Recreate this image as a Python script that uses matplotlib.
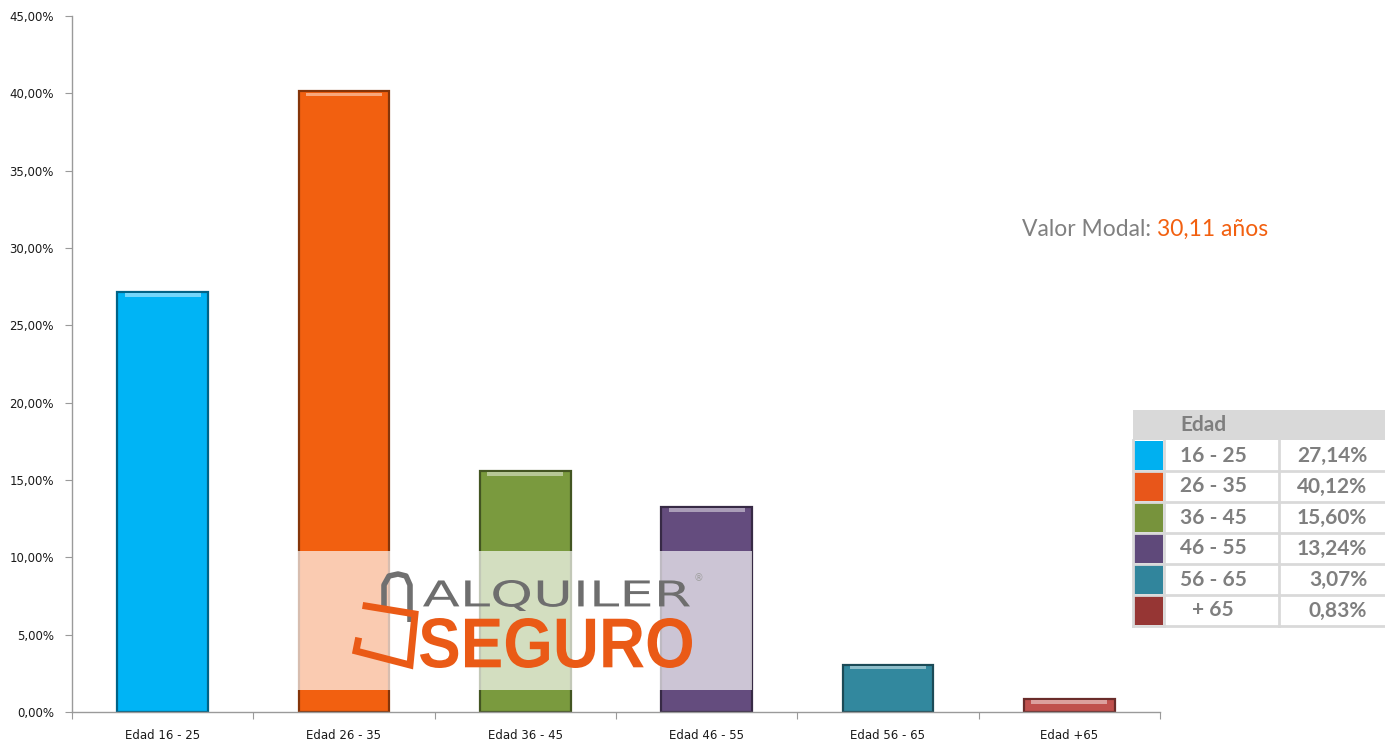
import matplotlib
matplotlib.use("Agg")
import matplotlib.pyplot as plt
from matplotlib.patches import Rectangle, PathPatch
from matplotlib.lines import Line2D
from matplotlib.textpath import TextPath
from matplotlib.font_manager import FontProperties
from matplotlib.transforms import Affine2D
from matplotlib.ticker import FixedLocator, FuncFormatter
import matplotlib.colors as mcolors

# ---------------- data ----------------
categories = ["Edad 16 - 25", "Edad 26 - 35", "Edad 36 - 45", "Edad 46 - 55", "Edad 56 - 65", "Edad +65"]
table_labels = ["16 - 25", "26 - 35", "36 - 45", "46 - 55", "56 - 65", "+ 65"]
values = [27.14, 40.12, 15.60, 13.24, 3.07, 0.83]
value_labels = ["27,14%", "40,12%", "15,60%", "13,24%", "3,07%", "0,83%"]
bar_colors = ["#00B4F5", "#F26010", "#7A9A3E", "#644C7E", "#32889E", "#C0504D"]
swatch_colors = ["#00B0F0", "#E8561A", "#77933C", "#5F497A", "#31859C", "#963634"]
yticks = [0, 5, 10, 15, 20, 25, 30, 35, 40, 45]

W, H = 1385, 740
fig = plt.figure(figsize=(W / 100, H / 100), dpi=100)

def fx(px):
    return px / W

def fy(py):
    return 1 - py / H

ax = fig.add_axes([fx(72), fy(712), fx(1160) - fx(72), fy(16) - fy(712)])

x = list(range(len(categories)))
for i, (v, c) in enumerate(zip(values, bar_colors)):
    dark = tuple(max(0, ch * 0.55) for ch in mcolors.to_rgb(c))
    light = tuple(min(1, ch + (1 - ch) * 0.45) for ch in mcolors.to_rgb(c))
    ax.bar(i, v, width=0.5, color=c, edgecolor=dark, linewidth=1.6, zorder=2)
    ax.bar(i, 0.25, bottom=v - 0.32, width=0.42, color=light, linewidth=0, zorder=3)

ax.set_xlim(-0.5, len(categories) - 0.5)
ax.set_ylim(0, 45)
ax.yaxis.set_major_locator(FixedLocator(yticks))
ax.yaxis.set_major_formatter(FuncFormatter(lambda v, p: f"{v:.2f}%".replace(".", ",")))
ax.xaxis.set_major_locator(FixedLocator([i - 0.5 for i in range(len(categories) + 1)]))
ax.xaxis.set_major_formatter(FuncFormatter(lambda v, p: ""))
ax.xaxis.set_minor_locator(FixedLocator(x))
ax.set_xticklabels(categories, minor=True)
ax.tick_params(axis="x", which="minor", length=0, pad=12, labelsize=8.5, labelcolor="#1a1a1a")
ax.tick_params(axis="x", which="major", length=5, color="#9a9a9a", direction="out")
ax.tick_params(axis="y", length=5, color="#9a9a9a", labelsize=8.5, labelcolor="#1a1a1a", pad=8)
for s in ["top", "right"]:
    ax.spines[s].set_visible(False)
for s in ["left", "bottom"]:
    ax.spines[s].set_color("#9a9a9a")
    ax.spines[s].set_linewidth(1)

# ---------------- watermark ----------------
fig.patches.append(Rectangle((fx(297), fy(690)), fx(752) - fx(297), fy(551) - fy(690),
                             transform=fig.transFigure, facecolor="white", alpha=0.68,
                             edgecolor="none", zorder=5))

def fitted_text(s, x0, x1, ytop, ybot, color, prop):
    """Place text path so its bounding box fills the pixel box."""
    tp = TextPath((0, 0), s, size=100, prop=prop)
    ext = tp.get_extents()
    sx = (x1 - x0) / ext.width
    sy = (ybot - ytop) / ext.height
    tr = (Affine2D().translate(-ext.x0, -ext.y0).scale(sx, sy)
          .translate(x0, H - ybot).scale(1 / W, 1 / H))
    patch = PathPatch(tr.transform_path(tp), facecolor=color, edgecolor="none",
                      transform=fig.transFigure, zorder=6)
    fig.add_artist(patch)

fitted_text("ALQUILER", 423, 690, 580, 611, "#6e6e6e",
            FontProperties(family="DejaVu Sans", weight="normal"))
fitted_text("SEGURO", 420, 692, 618, 668, "#EA5A16",
            FontProperties(family="Liberation Sans", weight="bold"))
fig.text(fx(694), fy(578), "®", color="#a0a0a0", fontsize=7, va="center", ha="left", zorder=6)
# lock shackle (gray)
fig.add_artist(Line2D([fx(384), fx(384), fx(389), fx(398), fx(406), fx(410), fx(410)],
                      [fy(608), fy(585), fy(576), fy(574), fy(576), fy(585), fy(622)],
                      color="#707070", lw=4, transform=fig.transFigure, zorder=6,
                      solid_capstyle="butt"))
# lock body outline (orange)
fig.add_artist(Line2D([fx(366), fx(415), fx(410), fx(356), fx(358)],
                      [fy(606), fy(614), fy(665), fy(651), fy(641)],
                      color="#EA5A16", lw=5, transform=fig.transFigure, zorder=6,
                      solid_joinstyle="miter"))

# ---------------- annotation ----------------
t1 = fig.text(fx(1022), fy(229), "Valor Modal: ", color="#808080", fontsize=16.5,
              fontfamily="Lato", va="center", ha="left")
fig.canvas.draw()
bb = t1.get_window_extent()
fig.text(bb.x1 / W, fy(229), "30,11 años", color="#F26010", fontsize=16.5,
         fontfamily="Lato", va="center", ha="left")

# ---------------- table ----------------
gray_txt = "#7f7f7f"
line_c = "#d9d9d9"
fig.patches.append(Rectangle((fx(1133), fy(440)), fx(1385) - fx(1133), fy(410) - fy(440),
                             transform=fig.transFigure, facecolor="#d9d9d9", edgecolor="none"))
fig.text(fx(1180), fy(425), "Edad", color=gray_txt, fontsize=15, fontweight="bold",
         fontfamily="Lato", va="center", ha="left")
row_h = 31
top = 440
for i, (lab, val, sc) in enumerate(zip(table_labels, value_labels, swatch_colors)):
    y0 = top + i * row_h
    fig.patches.append(Rectangle((fx(1134), fy(y0 + row_h - 1)), fx(1163) - fx(1134),
                                 fy(y0 + 1) - fy(y0 + row_h - 1),
                                 transform=fig.transFigure, facecolor=sc, edgecolor="none"))
    fig.text(fx(1213), fy(y0 + row_h / 2), lab, color=gray_txt, fontsize=15, fontweight="bold",
             fontfamily="Lato", va="center", ha="center")
    fig.text(fx(1367), fy(y0 + row_h / 2), val, color=gray_txt, fontsize=15, fontweight="bold",
             fontfamily="Lato", va="center", ha="right")
    fig.add_artist(Line2D([fx(1133), fx(1385)], [fy(y0 + row_h), fy(y0 + row_h)],
                          color=line_c, lw=2, transform=fig.transFigure))
for xv in [1133, 1164, 1279]:
    fig.add_artist(Line2D([fx(xv), fx(xv)], [fy(440), fy(440 + 6 * row_h)],
                          color=line_c, lw=2, transform=fig.transFigure))

fig.savefig("out.png", dpi=100, facecolor="white")
